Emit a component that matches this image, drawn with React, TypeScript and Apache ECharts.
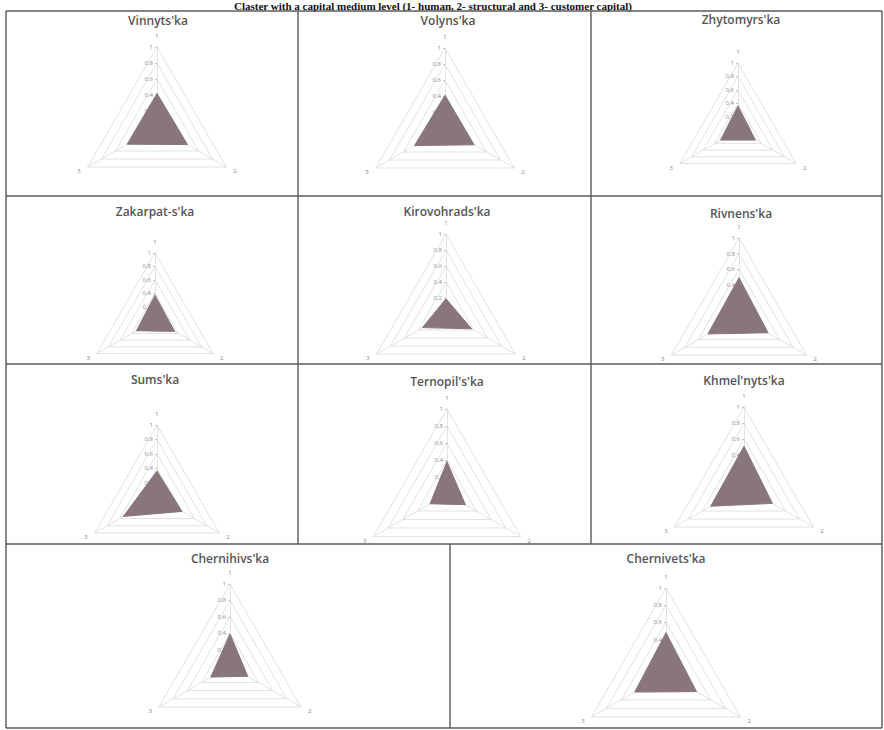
import React, { useEffect, useRef } from 'react';
import * as echarts from 'echarts';

const mainTitle = 'Claster with a capital medium level (1- human, 2- structural and 3- customer capital)';
const regions = [
  "Vinnyts'ka", "Volyns'ka", "Zhytomyrs'ka",
  "Zakarpat-s'ka", "Kirovohrads'ka", "Rivnens'ka",
  "Sums'ka", "Ternopil's'ka", "Khmel'nyts'ka",
  "Chernihivs'ka", "Chernivets'ka",
];
const axisNames = ['1', '2', '3'];
const human = [0.42, 0.41, 0.36, 0.37, 0.19, 0.49, 0.36, 0.38, 0.51, 0.39, 0.48];
const structural = [0.44, 0.42, 0.30, 0.34, 0.37, 0.43, 0.40, 0.25, 0.41, 0.25, 0.41];
const customer = [0.43, 0.44, 0.30, 0.32, 0.34, 0.46, 0.54, 0.23, 0.48, 0.27, 0.42];
const scaleMax = 1;

// layout (positions of each small chart inside the scanned table)
const panelCenters = [
  [157, 127], [445, 128], [738, 130],
  [155, 320], [446, 314], [739, 316],
  [157, 497], [447, 494], [744, 487],
  [230, 666], [666, 674],
];
const panelRadii = [80, 80, 67, 67, 80, 78, 72, 85, 80, 82, 86];
const panelTitlePos = [
  [158, 20], [448, 20], [741, 19],
  [155, 211], [447, 211], [741, 213],
  [155, 379], [447, 381], [744, 380],
  [230, 558], [666, 558],
];
const hLines = [[6, 882, 11], [6, 882, 196], [6, 882, 364], [6, 882, 544], [6, 882, 728]];
const vLines = [[6, 11, 728], [882, 11, 728], [298, 11, 544], [591, 11, 544], [450, 544, 728]];

const fillColor = '#88767c';
const gridColor = '#dadada';

export default function App() {
  const ref = useRef<HTMLDivElement>(null);
  useEffect(() => {
    const chart = echarts.init(ref.current!, null, { renderer: 'svg' });
    const labelFmt = (v: any) => String(v).replace('.', ',');
    const radars = regions.map((_, i) => ({
      center: panelCenters[i],
      radius: panelRadii[i],
      startAngle: 90,
      shape: 'polygon',
      splitNumber: 5,
      nameGap: 8,
      indicator: [
        {
          name: axisNames[0], min: 0, max: scaleMax,
          axisLabel: { show: true, fontSize: 6, color: '#8a8a8a', margin: 4, formatter: labelFmt, fontFamily: 'Open Sans' },
          axisTick: { show: true, length: 2, lineStyle: { color: '#bbb', width: 0.8 } },
        },
        { name: axisNames[2], min: 0, max: scaleMax },
        { name: axisNames[1], min: 0, max: scaleMax },
      ],
      axisName: { color: '#888', fontSize: 6, fontFamily: 'Open Sans' },
      axisLine: { lineStyle: { color: gridColor, width: 0.8 } },
      splitLine: { lineStyle: { color: gridColor, width: 0.8 } },
      splitArea: { show: false },
      axisTick: { show: false },
      axisLabel: { show: false },
    }));
    const series = regions.map((r, i) => ({
      type: 'radar',
      radarIndex: i,
      symbol: 'none',
      silent: true,
      lineStyle: { color: fillColor, width: 1 },
      areaStyle: { color: fillColor, opacity: 1 },
      data: [{ name: r, value: [human[i], customer[i], structural[i]] }],
    }));
    const graphics: any[] = [];
    graphics.push({
      type: 'text', x: 433, y: 0,
      style: { text: mainTitle, fontFamily: 'Liberation Serif', fontWeight: 'bold', fontSize: 11, fill: '#111', textAlign: 'center', textVerticalAlign: 'top' },
    });
    regions.forEach((r, i) => {
      graphics.push({
        type: 'text', x: panelTitlePos[i][0], y: panelTitlePos[i][1],
        style: { text: r, fontFamily: 'Open Sans', fontSize: 12, fontWeight: 600, fill: '#555', textAlign: 'center', textVerticalAlign: 'middle' },
      });
    });
    hLines.forEach(([x1, x2, y]) => graphics.push({ type: 'line', shape: { x1, y1: y, x2, y2: y }, style: { stroke: '#5a5a5a', lineWidth: 1.4 } }));
    vLines.forEach(([x, y1, y2]) => graphics.push({ type: 'line', shape: { x1: x, y1, x2: x, y2 }, style: { stroke: '#5a5a5a', lineWidth: 1.4 } }));

    chart.setOption({
      animation: false,
      backgroundColor: '#fff',
      radar: radars,
      series,
      graphic: graphics,
    } as any);
    return () => chart.dispose();
  }, []);
  return <div ref={ref} style={{ position: 'absolute', left: 0, top: 0, width: 884, height: 730 }} />;
}
